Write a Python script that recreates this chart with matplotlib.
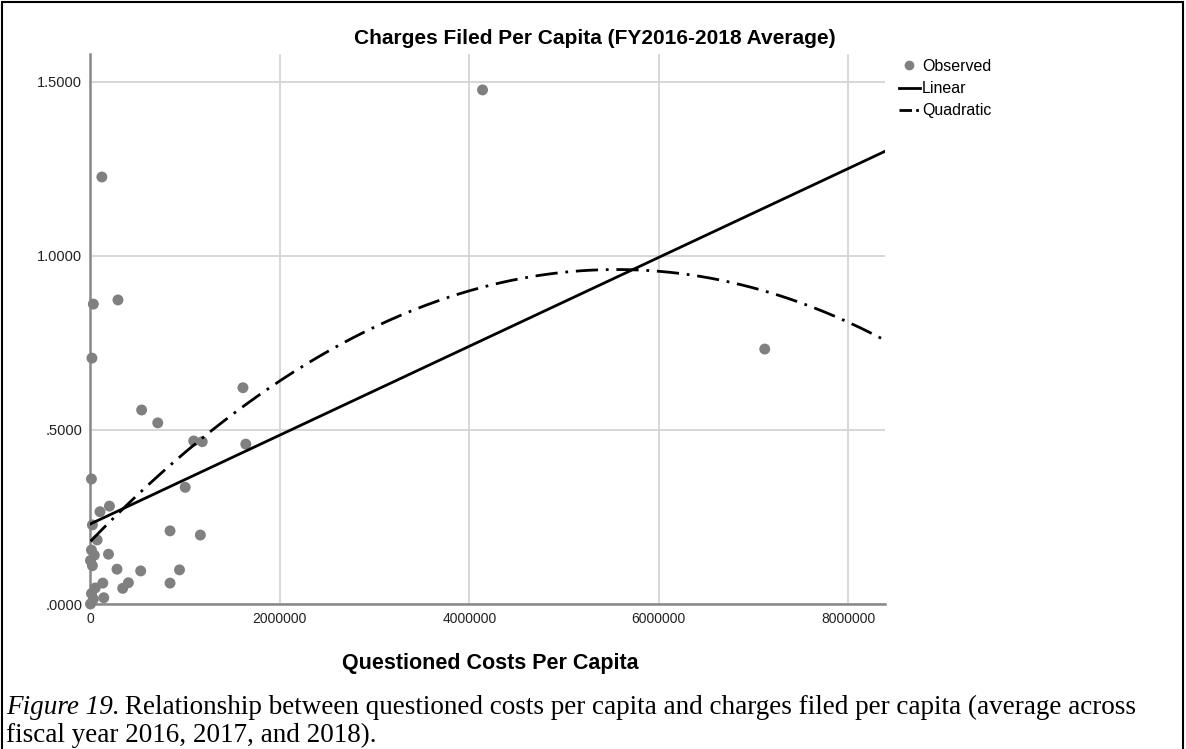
import matplotlib.pyplot as plt
import numpy as np
from matplotlib.lines import Line2D
from matplotlib.patches import Rectangle

# Observed: questioned costs per capita vs charges filed per capita
costs = [4140000, 120000, 30000, 290000, 15000, 7120000, 1610000, 540000,
         710000, 1090000, 1180000, 1640000, 10000, 1000000, 200000, 100000,
         20000, 840000, 1160000, 70000, 10000, 190000, 40000, 0, 20000,
         280000, 940000, 530000, 400000, 840000, 130000, 50000, 340000,
         10000, 140000, 30000, 0]
charges = [1.476, 1.226, 0.861, 0.873, 0.706, 0.732, 0.621, 0.557,
           0.520, 0.468, 0.466, 0.459, 0.359, 0.335, 0.281, 0.265,
           0.227, 0.210, 0.198, 0.184, 0.155, 0.143, 0.140, 0.125, 0.110,
           0.100, 0.098, 0.095, 0.061, 0.060, 0.060, 0.046, 0.045,
           0.030, 0.018, 0.014, 0.000]

# fitted curves (x in millions)
linear_coef = [0.1275, 0.230]
quad_coef = [-0.02528, 0.2809, 0.180]

x_ticks = [0, 2000000, 4000000, 6000000, 8000000]
x_ticklabels = ['0', '2000000', '4000000', '6000000', '8000000']
y_ticks = [0.0, 0.5, 1.0, 1.5]
y_ticklabels = ['.0000', '.5000', '1.0000', '1.5000']

W, H = 1186, 749
fig = plt.figure(figsize=(W / 100, H / 100), dpi=100)
ax = fig.add_axes([90.5 / W, 1 - 604 / H, (885 - 90.5) / W, (604 - 54) / H])

xmax = 8.39e6
ax.set_xlim(0, xmax)
ax.set_ylim(0, (604 - 54) / 348.3)

# grid
ax.grid(True, color='#d4d4d4', lw=1.3)
ax.set_axisbelow(True)
for s in ['top', 'right']:
    ax.spines[s].set_visible(False)
for s in ['left', 'bottom']:
    ax.spines[s].set_color('#888888')
    ax.spines[s].set_linewidth(1.8)

ax.set_xticks(x_ticks)
ax.set_xticklabels(x_ticklabels, family='Liberation Sans', fontsize=10, color='#222222')
ax.set_yticks(y_ticks)
ax.set_yticklabels(y_ticklabels, family='Liberation Sans', fontsize=10.5, color='#222222')
ax.tick_params(length=0, pad=6)

# points
ax.scatter(costs, charges, s=62, color='#808080', edgecolors='none', zorder=3, clip_on=False)

# fit lines
xx = np.linspace(0, xmax, 400)
ax.plot(xx, np.polyval(linear_coef, xx / 1e6), color='black', lw=2.0, zorder=4)
ax.plot(xx, np.polyval(quad_coef, xx / 1e6), color='black', lw=2.0, zorder=4,
        linestyle=(0, (8.0, 2.8, 1.0, 2.8)))

# legend
handles = [
    Line2D([], [], marker='o', color='#808080', ls='none', markersize=6),
    Line2D([], [], color='black', lw=2.0),
    Line2D([], [], color='black', lw=2.0, linestyle=(0, (4.5, 1.5, 1.0, 1.5))),
]
ax.legend(handles, ['Observed', 'Linear', 'Quadratic'], loc='upper left',
          bbox_to_anchor=(899 / W, 1 - 59 / H), bbox_transform=fig.transFigure,
          frameon=False, handlelength=1.3, handletextpad=0.15, labelspacing=0.45,
          borderaxespad=0, borderpad=0,
          prop={'family': 'Liberation Sans', 'size': 11.5})

# title and axis label
fig.text(595 / W, 1 - 38 / H, 'Charges Filed Per Capita (FY2016-2018 Average)',
         ha='center', va='center', family='Liberation Sans', weight='bold', fontsize=15)
fig.text(490 / W, 1 - 663 / H, 'Questioned Costs Per Capita',
         ha='center', va='center', family='Liberation Sans', weight='bold', fontsize=15.5)

# caption
fs = 19.5
t1 = fig.text(6 / W, 1 - 714 / H, 'Figure 19.', ha='left', va='baseline',
              family='Liberation Serif', style='italic', fontsize=fs)
r = fig.canvas.get_renderer()
bb = t1.get_window_extent(renderer=r)
fig.text(bb.x1 / W + 5 / W, 1 - 714 / H,
         'Relationship between questioned costs per capita and charges filed per capita (average across',
         ha='left', va='baseline', family='Liberation Serif', fontsize=fs)
fig.text(6 / W, 1 - 742 / H, 'fiscal year 2016, 2017, and 2018).', ha='left', va='baseline',
         family='Liberation Serif', fontsize=fs)

# outer frame
fig.patches.append(Rectangle((2 / W, -0.1), (1183 - 2) / W, 1.1 - 2 / H,
                             transform=fig.transFigure, fill=False, ec='black', lw=1.5))

fig.savefig('out.png', dpi=100)
